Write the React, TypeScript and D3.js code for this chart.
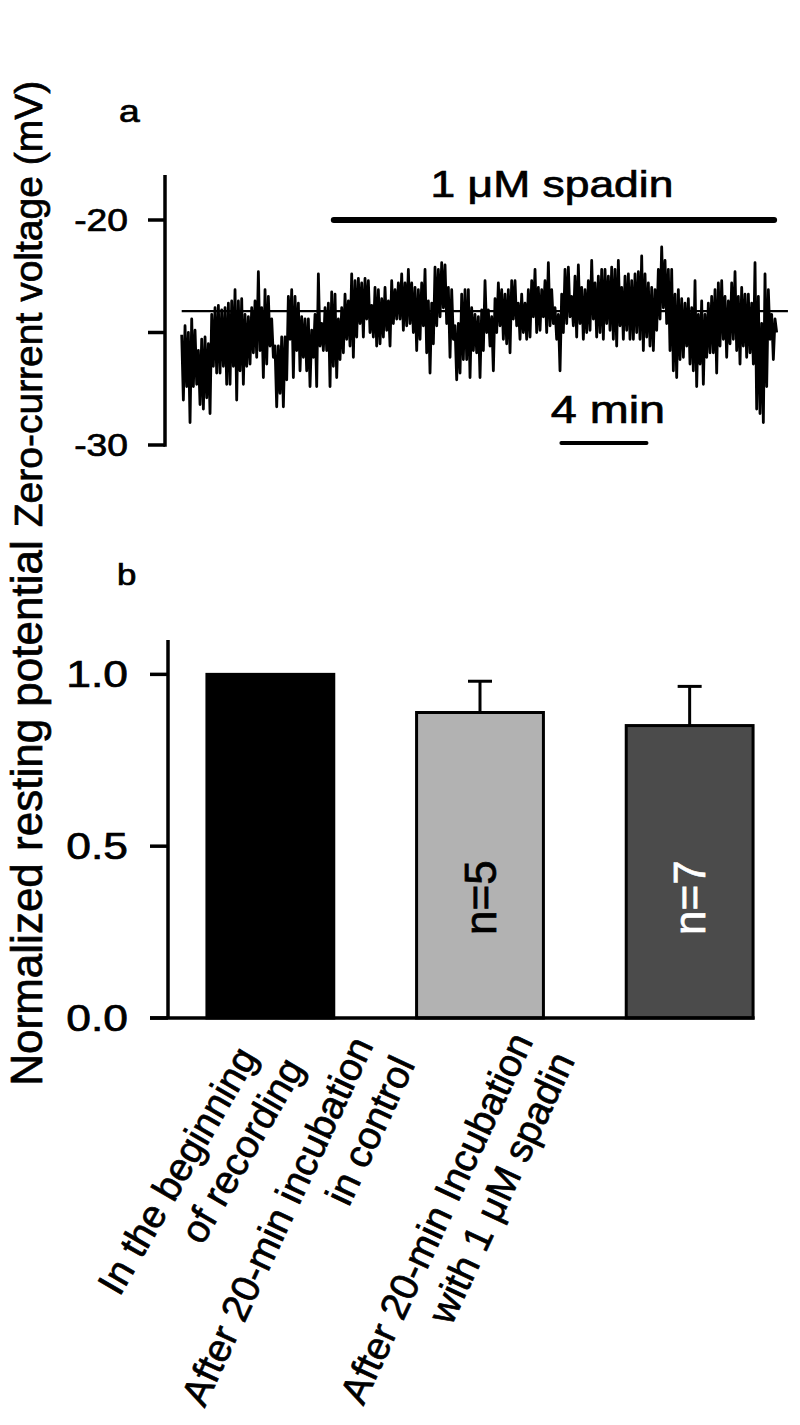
import React from "react";
import * as d3 from "d3";

// ---------- Panel a: zero-current voltage trace (mV), envelope per sample ----------
const traceMax = [
  -25.1,-24.7,-25.0,-24.4,-24.9,-25.8,-25.3,-25.2,-25.5,-24.2,-23.9,-23.8,-24.0,-23.9,-23.7,-23.6,-23.1,-23.6,-23.5,-24.2,-24.3,-23.9,-23.6,-22.3,-23.9,-23.1,-23.4,-24.4,-25.6,-25.6,-25.2,-25.2,-23.4,-23.1,-23.4,-23.7,-24.3,-24.4,-24.4,-24.9,-24.2,-22.4,-24.6,-23.9,-23.7,
  -23.2,-23.3,-24.4,-23.9,-23.3,-23.6,-22.4,-22.7,-22.6,-22.8,-22.6,-22.7,-23.8,-23.0,-23.1,-23.5,-23.0,-23.6,-22.7,-23.1,-22.8,-22.4,-22.8,-22.2,-22.8,-23.0,-23.1,-22.8,-22.2,-23.6,-23.7,-22.1,-22.2,-21.9,-22.0,-23.0,-23.1,-24.7,-24.6,-23.3,-23.1,-23.1,-23.9,-24.2,-24.3,
  -24.0,-22.7,-24.0,-24.3,-23.5,-22.8,-23.1,-23.3,-23.1,-22.7,-22.7,-23.7,-23.3,-23.7,-23.1,-22.7,-22.2,-23.0,-23.1,-22.7,-21.9,-23.1,-23.9,-24.2,-23.3,-22.2,-22.1,-23.4,-22.5,-22.0,-23.0,-23.1,-22.7,-21.8,-22.8,-22.5,-22.2,-22.2,-22.5,-22.1,-22.2,-21.8,-23.0,-22.5,-22.4,
  -22.7,-22.4,-22.3,-21.6,-22.4,-22.8,-23.0,-23.1,-22.2,-21.2,-21.8,-22.2,-22.2,-23.3,-23.1,-23.5,-23.7,-23.5,-23.9,-22.7,-24.2,-23.6,-24.2,-23.7,-23.4,-23.1,-22.8,-22.7,-23.4,-23.6,-22.8,-22.3,-23.4,-23.0,-23.3,-23.3,-23.7,-21.9,-23.4,-24.6,-22.4,-23.1,-24.2,-24.4,
];
const traceMin = [
  -28.0,-27.4,-29.0,-27.4,-27.3,-28.2,-28.4,-27.9,-28.6,-26.5,-26.8,-26.8,-26.5,-27.3,-27.3,-26.5,-28.0,-26.7,-27.3,-26.5,-26.4,-25.9,-26.1,-25.8,-27.0,-26.4,-25.6,-26.1,-28.3,-27.7,-28.3,-27.1,-25.3,-27.0,-25.8,-26.7,-26.1,-26.7,-27.4,-26.1,-27.4,-25.6,-25.8,-25.8,-27.4,
  -26.5,-27.0,-26.2,-25.9,-25.3,-25.6,-26.1,-25.2,-24.6,-25.2,-24.4,-25.0,-25.2,-25.6,-25.5,-25.2,-24.9,-25.6,-24.6,-24.4,-24.4,-24.9,-24.7,-24.6,-25.0,-25.8,-25.3,-24.7,-25.9,-26.8,-25.5,-24.7,-24.3,-23.9,-24.6,-26.1,-25.3,-27.1,-26.8,-26.2,-26.2,-27.0,-25.8,-25.9,-27.0,
  -25.8,-25.0,-25.6,-26.7,-25.0,-24.7,-25.3,-25.5,-25.9,-24.4,-24.7,-25.3,-25.0,-25.3,-25.2,-24.3,-25.0,-24.9,-24.3,-25.0,-24.7,-24.6,-25.3,-26.7,-25.0,-24.6,-24.3,-24.7,-25.2,-24.6,-25.3,-25.0,-24.9,-24.4,-25.2,-25.0,-25.3,-24.6,-24.9,-25.3,-25.6,-24.7,-25.3,-24.9,-25.3,
  -25.3,-25.0,-25.3,-25.8,-25.2,-25.6,-25.8,-24.9,-24.4,-23.9,-24.6,-25.8,-26.7,-27.0,-26.2,-26.1,-25.6,-26.4,-26.7,-27.4,-26.4,-27.3,-26.1,-25.9,-25.9,-26.8,-25.6,-25.3,-26.1,-25.5,-25.3,-25.8,-26.4,-25.6,-26.1,-25.9,-26.4,-28.4,-28.6,-29.0,-27.4,-25.3,-26.2,-25.0,
];
const sampleInterval = 0.1567; // min
const refLevel = -24.05; // mV
const refLineEnd = 28.5; // min
const spadinWindow = [7.15, 27.85]; // min
const scaleBarWindow = [17.85, 21.85]; // min (4 min)
const voltTicks = [-30, -25, -20];
const voltTickLabels = ["-30", "", "-20"];

// ---------- Panel b: normalized resting potential ----------
const categories = [
  ["In the beginning", "of recording"],
  ["After 20-min incubation", "in control"],
  ["After 20-min Incubation", "with 1 \u03bcM spadin"],
];
const means = [1.0, 0.889, 0.851];
const sems = [0, 0.091, 0.114];
const nLabels = ["", "n=5", "n=7"];
const normTicks = [0, 0.5, 1.0];

// styles / layout
const barFills = ["#000000", "#b2b2b2", "#4b4b4b"];
const nColors = ["#000", "#000", "#fff"];
const labelDx = [-12, -106, -156];
const labelY = [1057, 1045, 1041];
const labelAngle = [60, 65, 65];
const line2Shift = [14, 0, 0];
const FONT = "'Liberation Sans', Arial, Helvetica, sans-serif";
const SX = 1.2;
const TS = 0.7; // text stroke to mimic heavier glyphs

export default function App() {
  // Panel a scales
  const xT = d3.scaleLinear().domain([0, 28]).range([181.7, 777.3]);
  const yV = d3.scaleLinear().domain([-30, -18]).range([445, 175]);

  const pts: [number, number][] = [];
  traceMax.forEach((hi, i) => {
    const t = i * sampleInterval;
    pts.push([xT(t), yV(hi)]);
    pts.push([xT(t + sampleInterval / 2), yV(traceMin[i])]);
  });
  const tracePath = d3.line()(pts) || "";

  // Panel b scales
  const xB = d3
    .scaleBand<number>()
    .domain(means.map((_, i) => i))
    .range([165, 795])
    .paddingInner(0.395)
    .paddingOuter(0.2);
  const yB = d3.scaleLinear().domain([0, 1.1]).range([1018, 640]);
  const bw = xB.bandwidth();

  return (
    <svg
      width={800}
      height={1425}
      style={{ position: "absolute", left: 0, top: 0, background: "#fff" }}
      fontFamily={FONT}
    >
      <rect x={0} y={0} width={800} height={1425} fill="#fff" />

      <g fill="#000" stroke="#000" strokeWidth={TS}>
        <text transform={`translate(119,122) scale(${SX},1)`} fontSize={31}>a</text>
        <text transform={`translate(42,304) rotate(-90)`} textAnchor="middle" fontSize={39}>
          Zero-current voltage (mV)
        </text>
        <text transform={`translate(117,585) scale(${SX},1)`} fontSize={29}>b</text>
        <text transform={`translate(42,813) rotate(-90)`} textAnchor="middle" fontSize={44}>
          Normalized resting potential
        </text>
      </g>

      {/* ===== Panel a ===== */}
      <line x1={165} x2={165} y1={yV(-18)} y2={yV(-30) + 1.75} stroke="#000" strokeWidth={3.5} />
      {voltTicks.map((t, i) => (
        <g key={t}>
          <line x1={148} x2={165} y1={yV(t)} y2={yV(t)} stroke="#000" strokeWidth={3.5} />
          {voltTickLabels[i] && (
            <text
              transform={`translate(128,${yV(t) + 11}) scale(${SX},1)`}
              textAnchor="end"
              fontSize={31}
              stroke="#000"
              strokeWidth={TS}
            >
              {voltTickLabels[i]}
            </text>
          )}
        </g>
      ))}
      <line
        x1={xT(0)}
        x2={xT(refLineEnd)}
        y1={yV(refLevel)}
        y2={yV(refLevel)}
        stroke="#000"
        strokeWidth={2.4}
      />
      <path d={tracePath} fill="none" stroke="#000" strokeWidth={2.8} strokeLinejoin="round" />
      <line
        x1={xT(spadinWindow[0])}
        x2={xT(spadinWindow[1])}
        y1={yV(-20)}
        y2={yV(-20)}
        stroke="#000"
        strokeWidth={6}
        strokeLinecap="round"
      />
      <text
        transform={`translate(${(xT(spadinWindow[0]) + xT(spadinWindow[1])) / 2 - 2},197) scale(${SX},1)`}
        textAnchor="middle"
        fontSize={37}
        stroke="#000"
        strokeWidth={TS}
      >
        1 {"\u03bc"}M spadin
      </text>
      <line
        x1={xT(scaleBarWindow[0])}
        x2={xT(scaleBarWindow[1])}
        y1={443}
        y2={443}
        stroke="#000"
        strokeWidth={4}
        strokeLinecap="round"
      />
      <text
        transform={`translate(${(xT(scaleBarWindow[0]) + xT(scaleBarWindow[1])) / 2 + 4},423) scale(${SX},1)`}
        textAnchor="middle"
        fontSize={39}
        stroke="#000"
        strokeWidth={TS}
      >
        4 min
      </text>

      {/* ===== Panel b ===== */}
      {means.map((m, i) => {
        const x0 = xB(i) as number;
        const cx = x0 + bw / 2;
        return (
          <g key={i}>
            {sems[i] > 0 && (
              <g stroke="#000" strokeWidth={3}>
                <line x1={cx} x2={cx} y1={yB(m)} y2={yB(m + sems[i])} />
                <line x1={cx - 12} x2={cx + 12} y1={yB(m + sems[i])} y2={yB(m + sems[i])} />
              </g>
            )}
            <rect
              x={x0}
              y={yB(m)}
              width={bw}
              height={yB(0) - yB(m)}
              fill={barFills[i]}
              stroke="#000"
              strokeWidth={3}
            />
            {nLabels[i] && (
              <text
                transform={`translate(${cx},${yB(0.35)}) rotate(-90)`}
                textAnchor="middle"
                dy="0.36em"
                fontSize={44}
                fill={nColors[i]}
                stroke={nColors[i]}
                strokeWidth={TS}
              >
                {nLabels[i]}
              </text>
            )}
            <g
              transform={`translate(${cx + labelDx[i]},${labelY[i]}) rotate(${-labelAngle[i]})`}
              fontSize={39}
              stroke="#000"
              strokeWidth={TS}
            >
              <text textAnchor="end">{categories[i][0]}</text>
              <text textAnchor="end" x={line2Shift[i]} y={46}>{categories[i][1]}</text>
            </g>
          </g>
        );
      })}
      <line x1={168} x2={168} y1={yB(1.1)} y2={yB(0)} stroke="#000" strokeWidth={3.5} />
      <line x1={150} x2={(xB(2) as number) + bw + 1.5} y1={yB(0)} y2={yB(0)} stroke="#000" strokeWidth={3.5} />
      {normTicks.map((t) => (
        <g key={t}>
          <line x1={150} x2={168} y1={yB(t)} y2={yB(t)} stroke="#000" strokeWidth={3.5} />
          <text
            transform={`translate(128,${yB(t) + 13}) scale(${SX},1)`}
            textAnchor="end"
            fontSize={37}
            stroke="#000"
            strokeWidth={TS}
          >
            {t.toFixed(1)}
          </text>
        </g>
      ))}
    </svg>
  );
}
